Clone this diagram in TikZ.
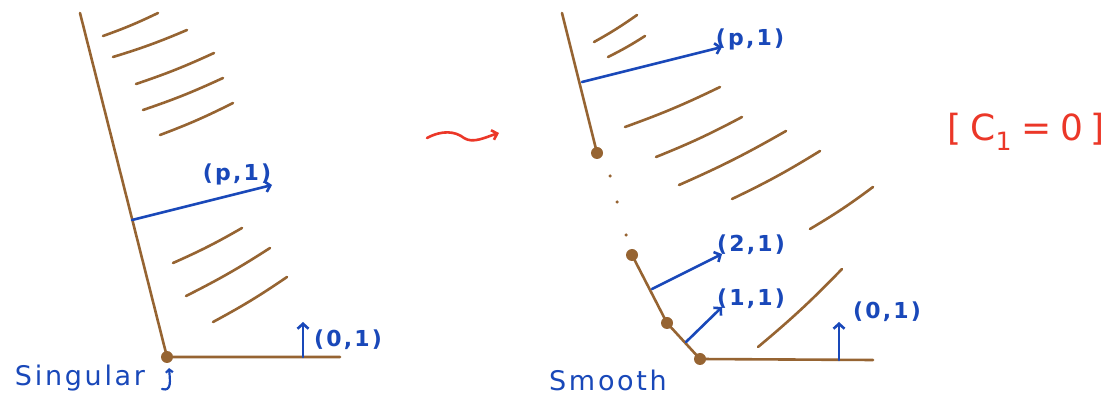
\documentclass[tikz,border=0pt]{standalone}
\usepackage{fontspec}
\setmainfont{DejaVu Sans}
\newfontfamily\hand[LetterSpace=10]{DejaVu Sans}
\usetikzlibrary{arrows.meta}
\definecolor{cbrown}{RGB}{150,100,50}
\definecolor{cblue}{RGB}{25,72,185}
\definecolor{cred}{RGB}{235,55,40}
\tikzset{fan/.style={x=1pt,y=-1pt,line cap=round,line join=round}}
\tikzset{ray/.style={cbrown,line width=2.6pt},
         hatch/.style={cbrown,line width=2.6pt},
         vert/.style={circle,fill=cbrown,inner sep=0pt,minimum size=12pt},
         tinydot/.style={circle,fill=cbrown,inner sep=0pt,minimum size=3.5pt},
         normal/.style={cblue,line width=2.6pt,-{Straight Barb[length=5pt,width=11pt]}},
         lab/.style={cblue,font=\hand\bfseries\fontsize{22}{26}\selectfont},
         word/.style={cblue,font=\hand\fontsize{27}{30}\selectfont}}

\begin{document}
\begin{tikzpicture}[fan]
    \useasboundingbox (0,0) rectangle (1112,411);
    % singular fan
    \coordinate (ltop) at (80,13);
    \node[vert] (v0) at (167,357) {};
    \coordinate (lend) at (340,357);
    \draw[ray] (ltop) -- (v0.center) -- (lend);
    \foreach \xa/\ya/\xb/\yb in {103/36/158/13, 113/57/187/30, 136/84/214/53,
        143/110/223/78, 160/135/233/103, 173/263/242/228, 186/296/270/248, 213/322/287/277}
      \draw[hatch] (\xa,\ya) to[bend right=3] (\xb,\yb);
    \coordinate (lp0) at (132,220);
    \coordinate (lp1) at (272,185);
    \draw[normal] (lp0) -- (lp1);
    \node[lab] (lplab) at (237,174) {(p,1)};
    \coordinate (lq0) at (303,357);
    \coordinate (lq1) at (303,322);
    \draw[normal] (lq0) -- (lq1);
    \node[lab] (lqlab) at (348,340) {(0,1)};
    \node[word] (sing) at (80,378) {Singular};
    \coordinate (scurl) at (162,389);
    \coordinate (shead) at (169,368);
    \draw[cblue,line width=2.2pt,-{Straight Barb[length=3pt,width=7pt]}]
      (scurl) .. controls (172,392) and (170,380) .. (shead);
    % arrow between the two
    \coordinate (sq0) at (427,138);
    \coordinate (sq1) at (499,133);
    \draw[cred,line width=2.6pt,-{Straight Barb[length=5pt,width=10pt]}]
      (sq0) .. controls (442,130) and (455,131) .. (464,138)
            .. controls (473,144) and (486,137) .. (sq1);
    % smooth fan
    \coordinate (rtop) at (562,13);
    \node[vert] (w3) at (597,153) {};
    \node[tinydot] (d1) at (610,176) {};
    \node[tinydot] (d2) at (617,202) {};
    \node[tinydot] (d3) at (626,235) {};
    \node[vert] (w2) at (632,255) {};
    \node[vert] (w1) at (667,323) {};
    \node[vert] (w0) at (700,359) {};
    \coordinate (rend) at (873,360);
    \draw[ray] (rtop) -- (w3.center);
    \draw[ray] (w2.center) -- (w1.center) -- (w0.center) -- (rend);
    \foreach \xa/\ya/\xb/\yb in {594/42/637/15, 608/57/645/36, 625/127/720/87,
        656/157/742/117, 679/185/786/131, 732/199/820/151, 810/229/873/187, 758/347/842/269}
      \draw[hatch] (\xa,\ya) to[bend right=3] (\xb,\yb);
    \coordinate (rp0) at (582,82);
    \coordinate (rp1) at (722,47);
    \draw[normal] (rp0) -- (rp1);
    \node[lab] (rplab) at (750,39) {(p,1)};
    \coordinate (r20) at (652,289);
    \coordinate (r21) at (722,254);
    \draw[normal] (r20) -- (r21);
    \node[lab] (r2lab) at (751,245) {(2,1)};
    \coordinate (r10) at (686,342);
    \coordinate (r11) at (722,307);
    \draw[normal] (r10) -- (r11);
    \node[lab] (r1lab) at (751,299) {(1,1)};
    \coordinate (r00) at (839,360);
    \coordinate (r01) at (839,322);
    \draw[normal] (r00) -- (r01);
    \node[lab] (r0lab) at (887,312) {(0,1)};
    \node[word] (smooth) at (608,380) {Smooth};
    % condition
    \node[cred,font=\fontsize{36}{40}\selectfont] (chern) at (1026,132)
      {[\hspace{0.25em}C\textsubscript{1}\hspace{0.25em}=\hspace{0.25em}0\hspace{0.2em}]};
\end{tikzpicture}
\end{document}
